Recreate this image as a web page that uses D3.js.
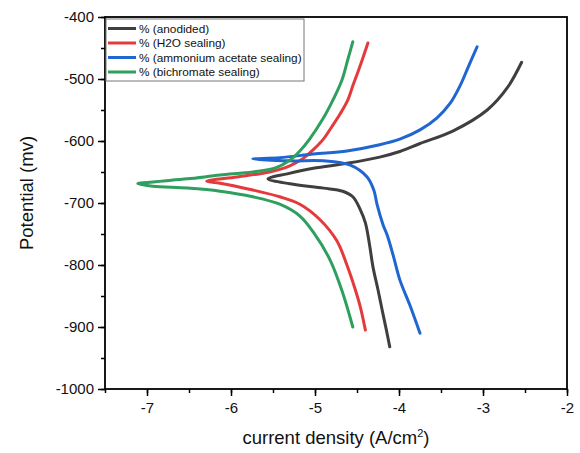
<!DOCTYPE html>
<html>
<head>
<meta charset="utf-8">
<script src="https://cdn.jsdelivr.net/npm/d3@7"></script>
<style>
  body { margin: 0; background: #fff; }
  svg text { font-family: "Liberation Sans", Arial, sans-serif; }
</style>
</head>
<body>
<svg id="chart" width="580" height="453"></svg>
<script>
// series labels and colours
var seriesNames = ['% (anodided)', '% (H2O sealing)', '% (ammonium acetate sealing)', '% (bichromate sealing)'];
var seriesColors = ['#3f3f3f', '#e53a3c', '#1f66d1', '#2f9f5f'];

// each curve goes from the cathodic end, through the tip, to the anodic end
var anodidedX = [-4.11, -4.15, -4.20, -4.25, -4.31, -4.35, -4.40, -4.46, -4.55, -4.67, -4.90, -5.30, -5.56,
                 -5.33, -5.02, -4.62, -4.23, -3.99, -3.75, -3.36, -2.95, -2.71, -2.54];
var anodidedY = [-932, -905, -873, -840, -803, -768, -732, -711, -690, -681, -676, -669, -661,
                 -653, -644, -636, -626, -617, -604, -584, -550, -514, -473];

var h2oX = [-4.40, -4.46, -4.52, -4.62, -4.74, -4.94, -5.18, -5.42, -5.74, -6.13, -6.29,
            -5.93, -5.54, -5.30, -5.14, -5.02, -4.90, -4.80, -4.70, -4.61, -4.55, -4.49, -4.43, -4.37];
var h2oY = [-905, -868, -840, -800, -761, -727, -702, -690, -679, -668, -665,
            -658, -650, -640, -628, -614, -597, -577, -556, -534, -511, -489, -466, -442];

var acetateX = [-3.75, -3.87, -3.99, -4.07, -4.14, -4.19, -4.26, -4.30, -4.38, -4.58, -4.90, -5.30, -5.74,
                -5.42, -5.02, -4.62, -4.23, -3.99, -3.75, -3.55, -3.39, -3.27, -3.18, -3.07];
var acetateY = [-910, -865, -824, -784, -752, -735, -703, -679, -658, -639, -632, -632, -629,
                -627, -621, -616, -606, -597, -582, -563, -539, -510, -482, -448];

var bichromateX = [-4.55, -4.67, -4.82, -5.02, -5.18, -5.42, -5.74, -6.13, -6.52, -6.93, -7.11,
                   -6.93, -6.52, -6.13, -5.74, -5.48, -5.30, -5.18, -5.06, -4.90, -4.79, -4.68, -4.61, -4.55];
var bichromateY = [-900, -845, -792, -747, -721, -702, -690, -681, -676, -673, -669,
                   -666, -661, -655, -650, -644, -631, -616, -596, -563, -535, -502, -469, -440];

var xTicks = [-7, -6, -5, -4, -3, -2];
var yTicks = [-1000, -900, -800, -700, -600, -500, -400];

var seriesX = [anodidedX, h2oX, acetateX, bichromateX];
var seriesY = [anodidedY, h2oY, acetateY, bichromateY];

var margin = {top: 17, right: 13, bottom: 64, left: 105},
    width = 580 - margin.left - margin.right,
    height = 453 - margin.top - margin.bottom;

var svg = d3.select('#chart');
var g = svg.append('g')
    .attr('transform', 'translate(' + margin.left + ',' + margin.top + ')');

var x = d3.scaleLinear().domain([-7.5, -2]).range([0, width]);
var y = d3.scaleLinear().domain([-1000, -400]).range([height, 0]);

// plain hyphen as minus sign, like the original
var fmt = function(d) { return String(d); };

// minor ticks first, then labelled axes over them
g.append('g')
    .attr('transform', 'translate(0,' + height + ')')
    .call(d3.axisBottom(x).tickValues(d3.range(-7.5, -1.9, 0.5)).tickSize(4).tickFormat(''))
    .call(function(a) { a.select('.domain').remove(); a.selectAll('line').attr('stroke-width', 1.5); });
g.append('g')
    .call(d3.axisLeft(y).tickValues(d3.range(-1000, -399, 50)).tickSize(4).tickFormat(''))
    .call(function(a) { a.select('.domain').remove(); a.selectAll('line').attr('stroke-width', 1.5); });

var xAxis = g.append('g')
    .attr('transform', 'translate(0,' + height + ')')
    .call(d3.axisBottom(x).tickValues(xTicks).tickSize(7).tickPadding(6).tickFormat(fmt));
var yAxis = g.append('g')
    .call(d3.axisLeft(y).tickValues(yTicks).tickSize(7).tickPadding(4).tickFormat(fmt));

[xAxis, yAxis].forEach(function(a) {
  a.select('.domain').remove();
  a.selectAll('line').attr('stroke-width', 1.5);
  a.selectAll('text')
    .attr('font-size', 15)
    .attr('fill', '#111')
    .style('font-family', '"Liberation Sans", Arial, sans-serif');
});

// frame
g.append('rect')
    .attr('x', 0).attr('y', 0)
    .attr('width', width).attr('height', height)
    .attr('fill', 'none')
    .attr('stroke', '#000')
    .attr('stroke-width', 1.8);

var line = d3.line()
    .x(function(d) { return x(d[0]); })
    .y(function(d) { return y(d[1]); })
    .curve(d3.curveCatmullRom.alpha(0.5));

seriesX.forEach(function(xs, i) {
  var pts = xs.map(function(v, j) { return [v, seriesY[i][j]]; });
  g.append('path')
      .datum(pts)
      .attr('d', line)
      .attr('fill', 'none')
      .attr('stroke', seriesColors[i])
      .attr('stroke-width', 3)
      .attr('stroke-linejoin', 'round')
      .attr('stroke-linecap', 'round');
});

// legend
var legend = g.append('g').attr('transform', 'translate(1,2)');
legend.append('rect')
    .attr('x', 0).attr('y', 0)
    .attr('width', 198).attr('height', 62)
    .attr('fill', '#fff')
    .attr('stroke', '#777')
    .attr('stroke-width', 1);

seriesNames.forEach(function(name, i) {
  var ly = 9.5 + i * 14.5;
  legend.append('line')
      .attr('x1', 2).attr('x2', 30)
      .attr('y1', ly).attr('y2', ly)
      .attr('stroke', seriesColors[i])
      .attr('stroke-width', 3);
  legend.append('text')
      .attr('x', 33).attr('y', ly)
      .attr('dy', '0.35em')
      .attr('font-size', 11.8)
      .attr('fill', '#111')
      .text(name);
});

// axis titles
var xTitle = svg.append('text')
    .attr('x', margin.left + width / 2)
    .attr('y', 444)
    .attr('text-anchor', 'middle')
    .attr('font-size', 18.5)
    .attr('fill', '#111');
xTitle.append('tspan').text('current density (A/cm');
xTitle.append('tspan').attr('font-size', 11).attr('dy', -7).text('2');
xTitle.append('tspan').attr('dy', 7).text(')');

svg.append('text')
    .attr('transform', 'translate(33,193) rotate(-90)')
    .attr('text-anchor', 'middle')
    .attr('font-size', 18.5)
    .attr('fill', '#111')
    .text('Potential (mv)');
</script>
</body>
</html>
